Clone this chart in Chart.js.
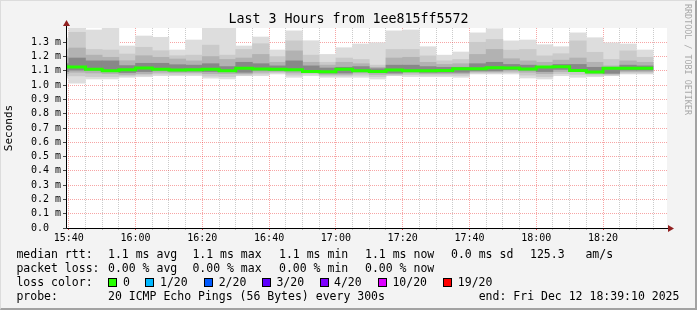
<!DOCTYPE html>
<html>
<head>
<meta charset="utf-8">
<script src="https://cdn.jsdelivr.net/npm/chart.js@4.4.1/dist/chart.umd.min.js"></script>
<style>
  body { margin: 0; background: #f3f3f3; }
  #wrap { position: relative; width: 697px; height: 310px; background: #f3f3f3; overflow: hidden; }
  #chart { position: absolute; left: 0; top: 0; }
  .mono { position: absolute; font-family: "DejaVu Sans Mono", monospace; color: #000; white-space: pre; }
  #title { left: 0; top: 11px; width: 697px; text-align: center; font-size: 13.3px; line-height: 16px; }
  #wm { left: 683px; top: 4px; font-size: 8.4px; color: #a8a8a8; writing-mode: vertical-rl; line-height: 10px; }
  .lg { font-size: 11.5px; line-height: 14px; }
  .box { position: absolute; width: 9px; height: 9px; border: 1px solid #000; box-sizing: border-box; }
  #frame { position: absolute; left: 0; top: 0; width: 697px; height: 310px; box-sizing: border-box;
           border-top: 1px solid #dcdcdc; border-left: 1px solid #dcdcdc;
           border-right: 2px solid #a2a2a2; border-bottom: 2px solid #a2a2a2; pointer-events: none; }
</style>
</head>
<body>
<div id="wrap">
  <canvas id="chart" width="697" height="310"></canvas>
  <div id="title" class="mono">Last 3 Hours from 1ee815ff5572</div>
  <div id="wm" class="mono">RRDTOOL / TOBI OETIKER</div>
  <div id="legend"></div>
  <div id="frame"></div>
</div>
<script>
// 5 minute slots, each bar covers [start, start + 5 min]
const times = ['15:35','15:40','15:45','15:50','15:55','16:00','16:05','16:10','16:15','16:20','16:25','16:30',
               '16:35','16:40','16:45','16:50','16:55','17:00','17:05','17:10','17:15','17:20','17:25','17:30',
               '17:35','17:40','17:45','17:50','17:55','18:00','18:05','18:10','18:15','18:20','18:25','18:30'];
const startTime = '15:39:10';
const endTime = '18:39:10';

// rtt in ms
const medianRtt = [1.108,1.128,1.127,1.111,1.101,1.108,1.120,1.111,1.106,1.108,1.111,1.101,
                   1.118,1.113,1.111,1.108,1.096,1.094,1.111,1.101,1.096,1.106,1.101,1.101,
                   1.103,1.115,1.115,1.121,1.120,1.113,1.127,1.129,1.103,1.092,1.118,1.118];
const maxRtt = [1.330,1.400,1.386,1.398,1.274,1.344,1.335,1.246,1.316,1.400,1.400,1.274,
                1.337,1.246,1.380,1.311,1.215,1.262,1.288,1.297,1.380,1.386,1.269,1.210,
                1.232,1.366,1.395,1.310,1.316,1.283,1.269,1.366,1.332,1.296,1.288,1.246];
const p90Rtt = [1.250,1.370,1.250,1.246,1.218,1.265,1.241,1.206,1.210,1.280,1.210,1.250,
                1.290,1.200,1.310,1.210,1.160,1.190,1.180,1.140,1.250,1.250,1.205,1.170,
                1.180,1.300,1.320,1.245,1.250,1.205,1.220,1.310,1.230,1.180,1.240,1.195];
const p75Rtt = [1.200,1.260,1.210,1.195,1.171,1.206,1.195,1.183,1.170,1.200,1.180,1.190,
                1.215,1.160,1.240,1.160,1.140,1.160,1.150,1.125,1.190,1.195,1.160,1.145,
                1.150,1.215,1.250,1.185,1.170,1.160,1.175,1.190,1.160,1.135,1.170,1.160];
const p60Rtt = [1.150,1.190,1.170,1.170,1.137,1.153,1.153,1.143,1.140,1.150,1.130,1.160,
                1.150,1.135,1.170,1.135,1.120,1.125,1.130,1.115,1.140,1.140,1.130,1.125,
                1.125,1.150,1.160,1.145,1.140,1.130,1.145,1.145,1.125,1.110,1.140,1.135];
const p40Rtt = [1.095,1.105,1.105,1.095,1.088,1.095,1.105,1.098,1.098,1.095,1.095,1.090,
                1.105,1.102,1.100,1.100,1.085,1.085,1.100,1.090,1.085,1.095,1.090,1.090,
                1.090,1.100,1.100,1.108,1.105,1.095,1.110,1.110,1.090,1.083,1.105,1.105];
const p25Rtt = [1.080,1.090,1.085,1.080,1.075,1.080,1.090,1.088,1.088,1.080,1.080,1.080,
                1.090,1.095,1.085,1.090,1.075,1.075,1.085,1.075,1.078,1.085,1.080,1.080,
                1.080,1.093,1.093,1.098,1.090,1.080,1.095,1.095,1.080,1.078,1.095,1.095];
const p10Rtt = [1.065,1.065,1.060,1.060,1.065,1.070,1.078,1.075,1.077,1.063,1.060,1.070,
                1.078,1.087,1.070,1.078,1.065,1.065,1.070,1.060,1.070,1.073,1.070,1.070,
                1.068,1.085,1.085,1.088,1.070,1.060,1.080,1.075,1.070,1.070,1.085,1.085];
const minRtt = [1.050,1.013,1.043,1.043,1.055,1.059,1.066,1.066,1.066,1.048,1.043,1.066,
                1.066,1.078,1.055,1.066,1.055,1.055,1.055,1.043,1.066,1.060,1.059,1.059,
                1.055,1.078,1.078,1.078,1.050,1.043,1.066,1.055,1.059,1.066,1.078,1.078];

const xTickLabels = ['15:40','16:00','16:20','16:40','17:00','17:20','17:40','18:00','18:20'];
const yTickValues = [0.0,0.1,0.2,0.3,0.4,0.5,0.6,0.7,0.8,0.9,1.0,1.1,1.2,1.3];
const yTickLabels = ['0.0  ','0.1 m','0.2 m','0.3 m','0.4 m','0.5 m','0.6 m','0.7 m',
                     '0.8 m','0.9 m','1.0 m','1.1 m','1.2 m','1.3 m'];

// minutes after 15:40
const toMin = (t) => {
  const p = t.split(':').map(Number);
  return (p[0] - 15) * 60 + p[1] - 40 + (p[2] || 0) / 60;
};

const slotMin = 5;
const xTickValues = xTickLabels.map(toMin);

const smoke = [
  {lo: minRtt, hi: maxRtt, color: '#dddddd'},
  {lo: p10Rtt, hi: p90Rtt, color: '#cacaca'},
  {lo: p25Rtt, hi: p75Rtt, color: '#b2b2b2'},
  {lo: p40Rtt, hi: p60Rtt, color: '#888888'},
];

const datasets = smoke.map((s, k) => ({
  type: 'bar',
  order: smoke.length - k,
  backgroundColor: s.color,
  data: times.map((t, i) => ({x: toMin(t) + slotMin / 2, y: [s.lo[i], s.hi[i]]})),
}));

const medianPts = times.map((t, i) => ({x: toMin(t), y: medianRtt[i]}));
medianPts.push({x: toMin(times[times.length - 1]) + slotMin, y: medianRtt[medianRtt.length - 1]});

datasets.push({
  type: 'line',
  order: 0,
  data: medianPts,
  borderColor: '#26ff00',
  borderWidth: 3,
  stepped: 'after',
  pointRadius: 0,
  fill: false,
});

const MONO = 'DejaVu Sans Mono';
const RED = 'rgba(235,40,40,0.42)';
const GREY = 'rgba(140,140,140,0.45)';

const frameBg = {
  id: 'frameBg',
  beforeDraw(chart) {
    const {ctx, chartArea: a} = chart;
    ctx.save();
    ctx.fillStyle = '#f3f3f3';
    ctx.fillRect(0, 0, chart.width, chart.height);
    ctx.fillStyle = '#ffffff';
    ctx.fillRect(a.left, a.top, a.right - a.left, a.bottom - a.top);
    ctx.restore();
  },
  afterDraw(chart) {
    const {ctx, chartArea: a} = chart;
    const x0 = Math.round(a.left) + 0.5;
    const y0 = Math.round(a.bottom) + 0.5;
    ctx.save();
    ctx.strokeStyle = '#000';
    ctx.lineWidth = 1;
    ctx.beginPath();
    ctx.moveTo(x0, y0);
    ctx.lineTo(x0, a.top - 4);
    ctx.moveTo(x0, y0);
    ctx.lineTo(a.right + 3, y0);
    ctx.stroke();
    // arrow heads
    ctx.fillStyle = '#912020';
    ctx.beginPath();
    ctx.moveTo(x0 - 3.5, a.top - 2);
    ctx.lineTo(x0 + 3.5, a.top - 2);
    ctx.lineTo(x0, a.top - 8);
    ctx.closePath();
    ctx.fill();
    ctx.beginPath();
    ctx.moveTo(a.right + 1, y0 - 3.5);
    ctx.lineTo(a.right + 1, y0 + 3.5);
    ctx.lineTo(a.right + 7, y0);
    ctx.closePath();
    ctx.fill();
    ctx.restore();
  }
};

new Chart(document.getElementById('chart'), {
  data: {datasets},
  plugins: [frameBg],
  options: {
    responsive: false,
    animation: false,
    events: [],
    layout: {padding: {top: 28, right: 30, left: 0, bottom: 0}},
    datasets: {
      bar: {grouped: false, barPercentage: 1, categoryPercentage: 1, borderWidth: 0}
    },
    plugins: {
      legend: {display: false},
      tooltip: {enabled: false},
      title: {display: false},
    },
    scales: {
      x: {
        type: 'linear',
        offset: false,
        min: toMin(startTime),
        max: toMin(endTime),
        z: 1,
        afterFit(s) { s.height = 82; },
        afterBuildTicks(s) {
          const ticks = [];
          for (let m = 0; m <= toMin(times[times.length - 1]) + slotMin; m += slotMin) ticks.push({value: m});
          s.ticks = ticks;
        },
        ticks: {
          autoSkip: false,
          maxRotation: 0,
          padding: 2,
          color: '#000',
          font: {family: MONO, size: 10},
          callback: (v) => {
            const i = xTickValues.indexOf(v);
            return i >= 0 ? xTickLabels[i] : '';
          }
        },
        grid: {
          offset: false,
          color: (c) => (c.tick && xTickValues.indexOf(c.tick.value) >= 0 ? RED : GREY),
          tickColor: (c) => (c.tick && xTickValues.indexOf(c.tick.value) >= 0 ? '#d04040' : '#bbbbbb'),
          tickLength: 2,
          lineWidth: 1,
        },
        border: {display: false, dash: [1, 1]},
      },
      y: {
        type: 'linear',
        min: 0,
        max: 1.4,
        z: 1,
        afterFit(s) { s.width = 66; },
        afterBuildTicks(s) { s.ticks = yTickValues.map((v) => ({value: v})); },
        title: {
          display: true,
          text: 'Seconds',
          color: '#000',
          font: {family: MONO, size: 11},
          padding: {top: 3, bottom: 0},
        },
        ticks: {
          autoSkip: false,
          padding: 2,
          color: '#000',
          font: {family: MONO, size: 10},
          callback: (v, i) => yTickLabels[i],
        },
        grid: {
          color: (c) => (c.tick && c.tick.value === 0 ? 'rgba(0,0,0,0)' : RED),
          tickColor: '#444',
          tickLength: 3,
          lineWidth: 1,
        },
        border: {display: false, dash: [1, 1]},
      }
    }
  }
});

// legend block below the graph
const legendRows = [
  {y: 254, items: [[16.4, 'median rtt:'], [108, '1.1 ms avg'], [192.4, '1.1 ms max'], [279, '1.1 ms min'],
                   [365, '1.1 ms now'], [451, '0.0 ms sd'], [530, '125.3   am/s']]},
  {y: 268, items: [[16.4, 'packet loss:'], [108, '0.00 % avg'], [192.4, '0.00 % max'], [279, '0.00 % min'],
                   [365, '0.00 % now']]},
  {y: 282, items: [[16.4, 'loss color:'], [123, '0'], [160, '1/20'], [218.7, '2/20'], [276.4, '3/20'],
                   [334, '4/20'], [392.4, '10/20'], [457.8, '19/20']]},
  {y: 296, items: [[16.4, 'probe:'], [108, '20 ICMP Echo Pings (56 Bytes) every 300s'],
                   [478.7, 'end: Fri Dec 12 18:39:10 2025']]},
];
const lossBoxes = [[108, '#26ff00'], [145, '#00b8ff'], [204, '#0059ff'], [262, '#5e00ff'],
                   [320, '#7e00ff'], [377.8, '#dd00ff'], [443, '#ff0000']];

const legendEl = document.getElementById('legend');
legendRows.forEach((row) => {
  row.items.forEach(([x, text]) => {
    const s = document.createElement('div');
    s.className = 'mono lg';
    s.style.left = x + 'px';
    s.style.top = (row.y - 7) + 'px';
    s.textContent = text;
    legendEl.appendChild(s);
  });
});
lossBoxes.forEach(([x, c]) => {
  const b = document.createElement('div');
  b.className = 'box';
  b.style.left = x + 'px';
  b.style.top = (282 - 4.5) + 'px';
  b.style.background = c;
  legendEl.appendChild(b);
});
</script>
</body>
</html>
